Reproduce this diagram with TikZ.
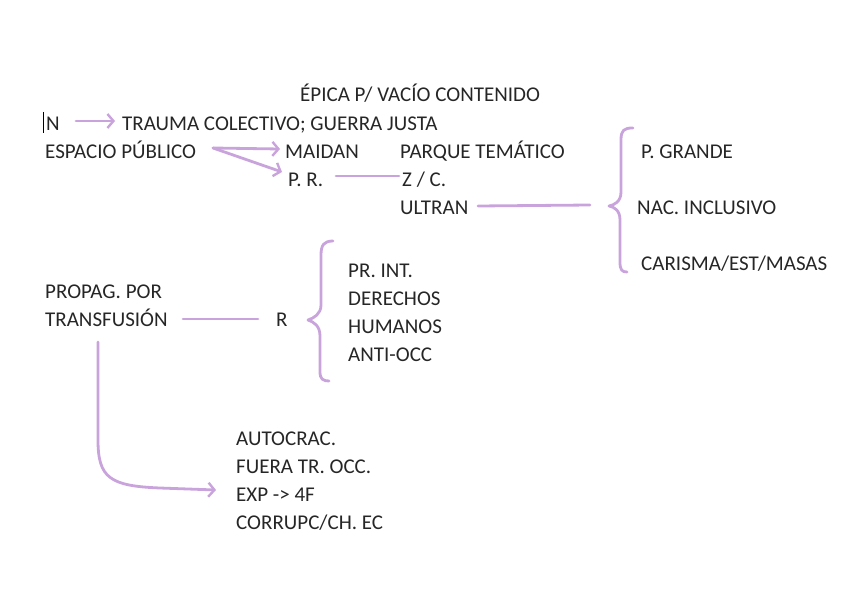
\documentclass[tikz,border=0pt]{standalone}
\usepackage{fontspec}
\setmainfont{Carlito}
\usetikzlibrary{arrows.meta}
\definecolor{lav}{HTML}{C9A3DB}
\tikzset{
  lbl/.style={anchor=base west, inner sep=0pt, font=\fontsize{21}{24}\selectfont, text=black!85},
  link/.style={draw=lav, line width=2.8pt, line cap=round, line join=round},
  arr/.style={link, -{Straight Barb[length=6pt,width=14pt,line width=2.4pt]}}
}
\begin{document}
\begin{tikzpicture}[x=1pt,y=-1pt]
\useasboundingbox (0,0) rectangle (848,599);
% texts (baseline = centre + 7)
\node[lbl] (epica) at (300,102) {ÉPICA P/ VACÍO CONTENIDO};
\node[lbl] (n) at (46,131) {N};
\node[lbl] (trauma) at (122,131) {TRAUMA COLECTIVO; GUERRA JUSTA};
\node[lbl] (esp) at (45,158) {ESPACIO PÚBLICO};
\node[lbl] (maidan) at (285,158) {MAIDAN};
\node[lbl] (parque) at (400,158) {PARQUE TEMÁTICO};
\node[lbl] (pr) at (288,186) {P. R.};
\node[lbl] (zc) at (402,186) {Z / C.};
\node[lbl] (ultran) at (400,214) {ULTRAN};
\node[lbl] (pgrande) at (641,158) {P. GRANDE};
\node[lbl] (nac) at (637,214) {NAC. INCLUSIVO};
\node[lbl] (carisma) at (641,270) {CARISMA/EST/MASAS};
\node[lbl] (propag) at (45,298) {PROPAG. POR};
\node[lbl] (transf) at (45,326) {TRANSFUSIÓN};
\node[lbl] (r) at (276,326) {R};
\node[lbl] (print) at (348,277) {PR. INT.};
\node[lbl] (der) at (348,305) {DERECHOS};
\node[lbl] (hum) at (348,333) {HUMANOS};
\node[lbl] (anti) at (348,361) {ANTI-OCC};
\node[lbl] (auto) at (236,445) {AUTOCRAC.};
\node[lbl] (fuera) at (236,473) {FUERA TR. OCC.};
\node[lbl] (exp) at (236,501) {EXP -> 4F};
\node[lbl] (corr) at (236,529) {CORRUPC/CH. EC};
% cursor bar
\coordinate (cur1) at (43.5,112);
\coordinate (cur2) at (43.5,133);
\draw[black, line width=1.2pt] (cur1) -- (cur2);
% connectors
\coordinate (nA) at (76,121);
\coordinate (nB) at (115,121);
\draw[arr] (nA) -- (nB);
\coordinate (eA) at (213,148);
\coordinate (eB) at (280,149);
\coordinate (eC) at (282,172);
\draw[arr] (eA) -- (eB);
\draw[arr] (eA) -- (eC);
\coordinate (prA) at (336,176);
\coordinate (prB) at (399,176);
\draw[link] (prA) -- (prB);
\coordinate (uA) at (478,206);
\coordinate (uB) at (590,205);
\draw[link] (uA) -- (uB);
\coordinate (tA) at (183,319);
\coordinate (tB) at (258,319);
\draw[link] (tA) -- (tB);
% brace 1
\draw[link] (633,128) .. controls (624,128) and (621,130) .. (621,140)
  -- (621,192) .. controls (621,202) and (614,205) .. (609,206)
  .. controls (614,207) and (620,210) .. (620,220)
  -- (620,262) .. controls (620,270) and (622,272) .. (627,272);
% brace 2
\draw[link] (333,241) .. controls (324,241) and (321,245) .. (321,255)
  -- (321,305) .. controls (321,314) and (314,318) .. (308,320)
  .. controls (314,322) and (320,326) .. (320,336)
  -- (320,372) .. controls (320,379) and (323,381) .. (329,381);
% bent arrow
\coordinate (bA) at (98,342);
\coordinate (bB) at (216,490);
\draw[arr] (bA) -- (98,440) .. controls (98,478) and (110,486) .. (160,488) -- (bB);
\end{tikzpicture}
\end{document}
